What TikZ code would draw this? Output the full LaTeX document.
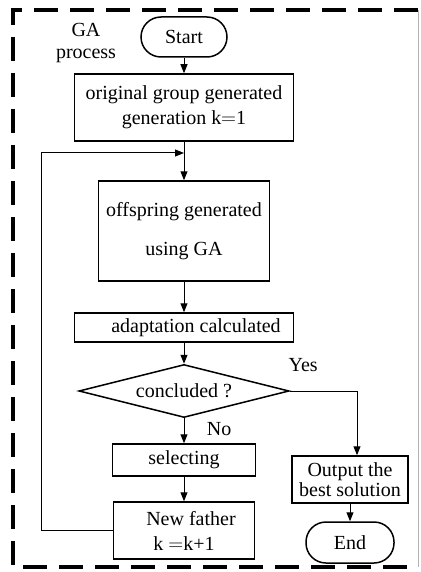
\documentclass[tikz,border=0pt]{standalone}
\usepackage{fontspec}
\setmainfont{Liberation Serif}
\usetikzlibrary{shapes.geometric,arrows.meta}

\begin{document}
\begin{tikzpicture}[x=1pt,y=-1pt,
  font=\fontsize{20}{25}\selectfont,
  >={Triangle[length=9pt,width=7pt]},
  block/.style={draw,line width=1.5pt,align=center,inner sep=0pt},
  terminal/.style={block,rounded corners=20pt},
  decision/.style={block,diamond,aspect=4},
  flow/.style={->,line width=1pt}]

\useasboundingbox (0,0) rectangle (420,572);

% draw frame
\draw[line width=3.5pt, dash pattern=on 24pt off 12pt] (418,10) -- (13,10) -- (13,567) -- (418,567);
\draw[gray!60, line width=0.6pt] (418,10) -- (418,567);
\node (ga) [align=center] at (86,43) {GA\\[-3pt]process};

% draw main column
\node (start) [terminal, minimum width=86pt, minimum height=40pt] at (184,37) {Start};
\node (orig) [block, minimum width=219pt, minimum height=67pt] at (184,107.5) {original group generated\\generation k$=$1};
\node (offspring) [block, minimum width=171pt, minimum height=100pt] at (184,231) {offspring generated\\[14pt]using GA};
\node (adapt) [block, minimum width=219pt, minimum height=29pt] at (184,327.5) {\hspace*{24pt}adaptation calculated};
\node (test) [decision, minimum width=210pt, minimum height=53pt] at (184,391) {concluded ?};
\node (select) [block, minimum width=143pt, minimum height=32pt] at (184,460) {selecting};
\node (father) [block, minimum width=141pt, minimum height=57pt] at (184,530.5) {\hspace*{14pt}New father\\k $=$k+1};

% draw right column
\node (output) [block, minimum width=116pt, minimum height=47pt] at (350,479.5) {Output the\\[-5pt]best solution};
\node (end) [terminal, minimum width=88pt, minimum height=41pt] at (350,542.5) {End};

% draw connectors
\coordinate (merge) at (184,153);
\coordinate (back) at (41,530.5);

\draw[flow] (start) -- (orig);
\draw[flow] (orig) -- (offspring);
\draw[flow] (offspring) -- (adapt);
\draw[flow] (adapt) -- (test);
\draw[flow] (test) -- (select) node (no) [right, pos=0.45, xshift=19pt] {No};
\draw[flow] (select) -- (father);
\draw[flow] (father.west) -- (back) |- (merge);
\draw[flow] (test.east) -| ([xshift=7pt]output.north) node (yes) [pos=0.1, above, yshift=15pt] {Yes};
\draw[flow] (output) -- (end);

\end{tikzpicture}
\end{document}
